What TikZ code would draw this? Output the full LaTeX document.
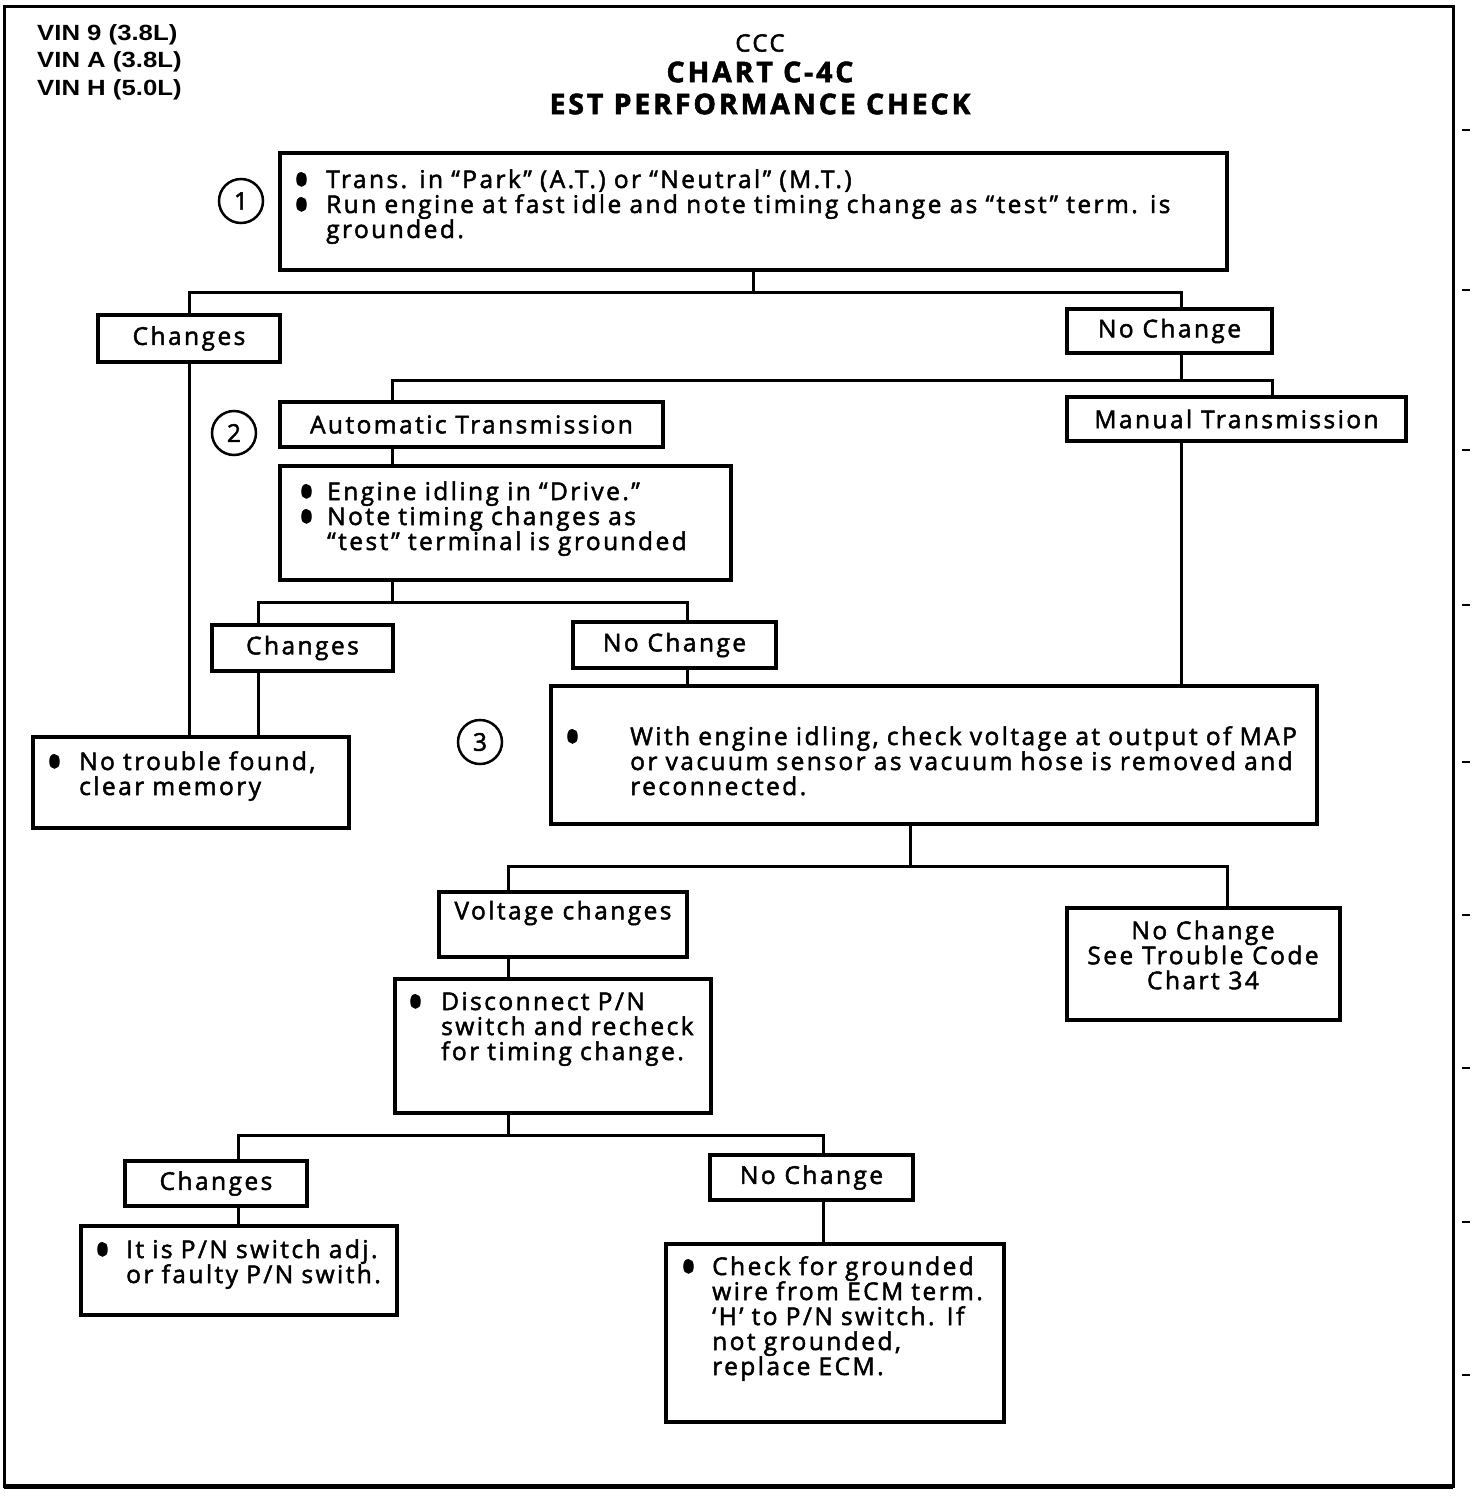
\documentclass[tikz,border=0pt]{standalone}
\usepackage{fontspec}
\setmainfont{Open Sans}[LetterSpace=10, FakeBold=2]
\newfontfamily\vinfont[FakeStretch=1.17]{Liberation Sans}
\usetikzlibrary{fit}

\newcommand{\chartfont}{\fontsize{24.5}{25}\selectfont}
\newcommand{\bul}[1]{\makebox[#1][l]{\raisebox{-12pt}[0pt][0pt]{\scalebox{1.8}[2.3]{\textbullet}}}}

\tikzset{
  boxline/.style={draw, line width=4pt, inner sep=0pt},
  tagbox/.style={draw, line width=4pt, inner sep=0pt, font=\chartfont},
  link/.style={line width=3pt},
  txt/.style={anchor=base west, inner sep=0pt, align=left, text width=1000pt, font=\chartfont},
  num/.style={draw, circle, line width=2.5pt, minimum size=44pt, inner sep=0pt, font=\chartfont}
}

\begin{document}
\begin{tikzpicture}[x=1pt, y=-1pt]

\useasboundingbox (0,0) rectangle (1472,1510);

% Outer frame
\draw[line width=3pt] (4,6) rectangle (1453,1486);
\draw[line width=5pt] (4,1486) -- (1453,1486);
\foreach \y in {130,290,450,605,762,915,1068,1222,1375}
  \draw[line width=1.5pt] (1462,\y) -- (1470,\y);

% Header
\node[anchor=north west, inner sep=0pt, align=left, font=\vinfont\bfseries\fontsize{22}{27.5}\selectfont] (vin) at (37,24)
  {VIN 9 (3.8L)\\VIN A (3.8L)\\VIN H (5.0L)};
\node[font=\fontsize{24}{24}\selectfont] (ccc) at (760,43) {CCC};
\node[font=\bfseries\fontsize{28.5}{28.5}\selectfont] (chart) at (760,72) {CHART C-4C};
\node[font=\bfseries\fontsize{28.5}{28.5}\selectfont] (title) at (760,104) {EST PERFORMANCE CHECK};

% Step 1
\node[num] (n1) at (241,201) {1};
\node[boxline, fit={(280,153) (1227,270)}] (step1) {};
\node[txt] at (293,188) {\bul{33pt}Trans. in “Park” (A.T.) or “Neutral” (M.T.)\\
  \bul{33pt}Run engine at fast idle and note timing change as “test” term. is\\
  \hspace*{33pt}grounded.};

\node[tagbox, minimum width=182pt, minimum height=47pt] (chg1) at (189,338.5) {Changes};
\node[tagbox, minimum width=205pt, minimum height=44pt] (nc1) at (1169.5,331) {No Change};

\coordinate (s1R) at (1181,292);
\draw[link] (step1.south) -- (step1.south |- s1R);
\draw[link] (chg1.north) |- (s1R) -- (s1R |- nc1.north);

% Step 2
\node[num] (n2) at (234,433) {2};
\node[tagbox, minimum width=383pt, minimum height=45pt] (at) at (471.5,424.5) {Automatic Transmission};
\node[tagbox, minimum width=339pt, minimum height=44pt] (mt) at (1236.5,419) {Manual Transmission};

\coordinate (s2) at (1181,380);
\coordinate (a2L) at (392,380);
\coordinate (a2R) at (1272,380);
\draw[link] (s2 |- nc1.south) -- (s2);
\draw[link] (a2L |- at.north) -- (a2L) -- (a2R) -- (a2R |- mt.north);

\node[boxline, fit={(280,466) (731,580)}] (step2) {};
\node[txt] at (298,500) {\bul{29pt}Engine idling in “Drive.”\\
  \bul{29pt}Note timing changes as\\
  \hspace*{29pt}“test” terminal is grounded};
\draw[link] (a2L |- at.south) -- (a2L |- step2.north);

\node[tagbox, minimum width=181pt, minimum height=46pt] (chg2) at (302.5,648) {Changes};
\node[tagbox, minimum width=203pt, minimum height=46pt] (nc2) at (674.5,645) {No Change};

\coordinate (b2L) at (258,602);
\coordinate (b2R) at (687,602);
\draw[link] (a2L |- step2.south) -- (a2L |- b2L);
\draw[link] (b2L |- chg2.north) -- (b2L) -- (b2R) -- (b2R |- nc2.north);

\node[boxline, fit={(33,737) (349,828)}] (ntf) {};
\node[txt] at (46,770) {\bul{33pt}No trouble found,\\
  \hspace*{33pt}clear memory};
\draw[link] (chg1.south) -- (chg1.south |- ntf.north);
\draw[link] (b2L |- chg2.south) -- (b2L |- ntf.north);

% Step 3
\node[num] (n3) at (480,742) {3};
\node[boxline, fit={(551,686) (1317,824)}] (step3) {};
\node[txt] at (564,745) {\bul{66pt}With engine idling, check voltage at output of MAP\\
  \hspace*{66pt}or vacuum sensor as vacuum hose is removed and\\
  \hspace*{66pt}reconnected.};
\draw[link] (b2R |- nc2.south) -- (b2R |- step3.north);
\draw[link] (s2 |- mt.south) -- (s2 |- step3.north);

\node[boxline, fit={(439,892) (687,957)}] (vc) {};
\node[font=\chartfont] (vctext) at (563,913) {Voltage changes};
\node[boxline, fit={(1067,908) (1340,1020)}] (nc3) {};
\node[align=center, font=\chartfont] (nc3text) at (1203,955) {No Change\\See Trouble Code\\Chart 34};

\coordinate (b3M) at (910,866);
\coordinate (b3L) at (508,866);
\coordinate (b3R) at (1227,866);
\draw[link] (b3M |- step3.south) -- (b3M);
\draw[link] (b3L |- vc.north) -- (b3L) -- (b3R) -- (b3R |- nc3.north);

\node[boxline, fit={(395,979) (711,1113)}] (disc) {};
\node[txt] at (407,1010) {\bul{34pt}Disconnect P/N\\
  \hspace*{34pt}switch and recheck\\
  \hspace*{34pt}for timing change.};
\draw[link] (b3L |- vc.south) -- (b3L |- disc.north);

\node[tagbox, minimum width=182pt, minimum height=45pt] (chg3) at (216,1183.5) {Changes};
\node[tagbox, minimum width=203pt, minimum height=45pt] (nc4) at (811.5,1177.5) {No Change};

\coordinate (b4L) at (238,1135);
\coordinate (b4R) at (823,1135);
\draw[link] (b3L |- disc.south) -- (b3L |- b4L);
\draw[link] (b4L |- chg3.north) -- (b4L) -- (b4R) -- (b4R |- nc4.north);

\node[boxline, fit={(81,1226) (397,1315)}] (pn) {};
\node[txt] at (94,1258) {\bul{32pt}It is P/N switch adj.\\
  \hspace*{32pt}or faulty P/N swith.};
\draw[link] (b4L |- chg3.south) -- (b4L |- pn.north);

\node[boxline, fit={(666,1244) (1004,1422)}] (chk) {};
\node[txt] at (680,1275) {\bul{32pt}Check for grounded\\
  \hspace*{32pt}wire from ECM term.\\
  \hspace*{32pt}‘H’ to P/N switch. If\\
  \hspace*{32pt}not grounded,\\
  \hspace*{32pt}replace ECM.};
\draw[link] (b4R |- nc4.south) -- (b4R |- chk.north);

\end{tikzpicture}
\end{document}
